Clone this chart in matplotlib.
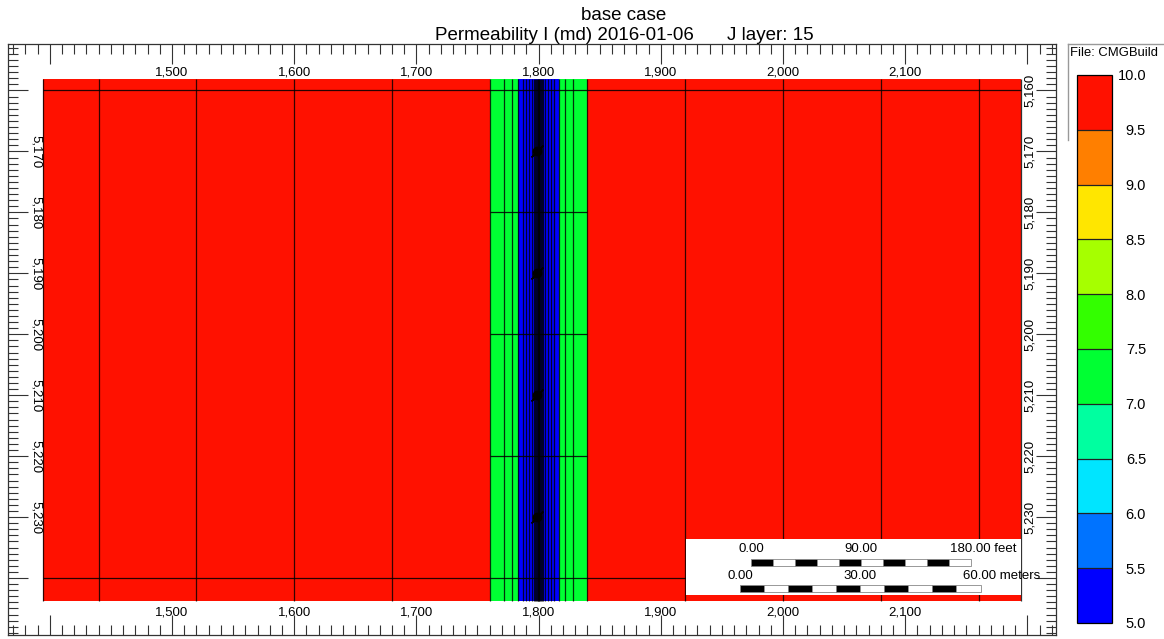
import numpy as np
import matplotlib
matplotlib.use("Agg")
import matplotlib.pyplot as plt
from matplotlib.colors import ListedColormap, BoundaryNorm
from matplotlib.cm import ScalarMappable
from matplotlib.patches import Rectangle
from matplotlib.lines import Line2D
from matplotlib.ticker import MultipleLocator

plt.rcParams['font.family'] = ['Liberation Sans', 'DejaVu Sans']

W, H = 1164, 639

# colour scale of permeability I (md)
levels = [5.0, 5.5, 6.0, 6.5, 7.0, 7.5, 8.0, 8.5, 9.0, 9.5, 10.0]
level_colors = ['#0000ff', '#0073ff', '#00e5ff', '#00ffa0', '#00ff33',
                '#33ff00', '#a6ff00', '#ffe600', '#ff7f00', '#ff1100']

# coarse grid block edges along I (ft)
x_left_edges = [1394.3, 1440, 1520, 1600, 1680]
x_right_edges = [1920, 2000, 2080, 2160, 2194.6]
coarse_perm = 9.8

# local refinement around the fracture at x = 1800
lgr_center = 1800.0
lgr_half = [40, 28, 22, 17, 13, 10, 7.5, 5.5, 4, 2.8, 1.9, 1.2, 0.7, 0.3]
lgr_perm_half = [7.3, 7.3, 7.3, 5.2, 5.2, 5.2, 5.2, 5.2, 5.2, 5.2, 5.2, 5.2, 5.2]
lgr_perm_mid = 5.2

# layer edges along K (ft, depth)
y_edges = [5158.1, 5160, 5180, 5200, 5220, 5240, 5243.8]
lgr_rows = [5180, 5200, 5220]

# wells (perforations) in the fracture blocks
well_x = [1799, 1799, 1799, 1799]
well_y = [5170, 5190, 5210, 5230]

x_ticklabels = [1500, 1600, 1700, 1800, 1900, 2000, 2100]
y_ticklabels_left = [5170, 5180, 5190, 5200, 5210, 5220, 5230]
y_ticklabels_right = [5160, 5170, 5180, 5190, 5200, 5210, 5220, 5230]

# build grid
lgr_left = [lgr_center - h for h in lgr_half]
lgr_right = [lgr_center + h for h in lgr_half[::-1]]
x_edges = np.array(x_left_edges + lgr_left + lgr_right + x_right_edges)
col_perm = ([coarse_perm] * len(x_left_edges) + lgr_perm_half + [lgr_perm_mid]
            + lgr_perm_half[::-1] + [coarse_perm] * len(x_right_edges))
perm = np.tile(col_perm, (len(y_edges) - 1, 1))

cmap = ListedColormap(level_colors)
norm = BoundaryNorm(levels, cmap.N)

fig = plt.figure(figsize=(W / 100, H / 100), dpi=100)
ax = fig.add_axes([8 / W, 1 - 635 / H, (1056 - 8) / W, (635 - 44) / H])

ax.pcolormesh(x_edges, y_edges, perm, cmap=cmap, norm=norm, shading='flat', zorder=1)
ax.vlines(x_edges, y_edges[0], y_edges[-1], color='black', lw=0.9, alpha=0.8, zorder=2)
ax.hlines([y_edges[1], y_edges[-2]], x_edges[0], x_edges[-1], color='black', lw=0.9, alpha=0.85, zorder=2)
ax.hlines(lgr_rows, lgr_left[0], lgr_right[-1], color='black', lw=0.9, alpha=0.85, zorder=2)

# well symbols
ax.plot(well_x, well_y, linestyle='none', marker=(2, 2, -45), ms=12, mew=1.0, color='black', zorder=4)
ax.plot(well_x, well_y, linestyle='none', marker='o', ms=6, color='black', zorder=4)

# axis scale (ruler style)
ax.set_xlim(1365.8, 2223.4)
ax.set_ylim(5249.35, 5152.37)
ax.xaxis.set_major_locator(MultipleLocator(100))
ax.xaxis.set_minor_locator(MultipleLocator(10))
ax.yaxis.set_major_locator(MultipleLocator(10))
ax.yaxis.set_minor_locator(MultipleLocator(1))
ax.tick_params(which='both', direction='in', top=True, right=True, bottom=True, left=True,
               labelbottom=False, labelleft=False, color='#333333', width=0.8)
ax.tick_params(which='major', length=14.4)
ax.tick_params(which='minor', length=7.2)
for s in ax.spines.values():
    s.set_color('#333333')
    s.set_linewidth(0.9)

for v in x_ticklabels:
    ax.text(v, 5157.0, f"{v:,}", ha='center', va='center', fontsize=9.5, zorder=5)
    ax.text(v, 5245.6, f"{v:,}", ha='center', va='center', fontsize=9.5, zorder=5)
for v in y_ticklabels_left:
    ax.text(1388.7, v, f"{v:,}", ha='center', va='center', fontsize=9.5, rotation=-90, zorder=5)
for v in y_ticklabels_right:
    ax.text(2202.1, v, f"{v:,}", ha='center', va='center', fontsize=9.5, rotation=90, zorder=5)

# scale bar box
ax.add_patch(Rectangle((1920.5, 5233.6), 2194.6 - 1920.5, 5242.8 - 5233.6,
                       facecolor='white', edgecolor='none', zorder=3))
feet_x0, feet_seg = 1973.8, 18.0
for i in range(10):
    ax.add_patch(Rectangle((feet_x0 + i * feet_seg, 5236.9), feet_seg, 1.15,
                           facecolor='black' if i % 2 == 0 else 'white',
                           edgecolor='#888888', lw=0.6, zorder=4))
m_x0, m_seg = 1964.8, 6 * 3.2808
for i in range(10):
    ax.add_patch(Rectangle((m_x0 + i * m_seg, 5241.1), m_seg, 1.15,
                           facecolor='black' if i % 2 == 0 else 'white',
                           edgecolor='#888888', lw=0.6, zorder=4))
ax.text(feet_x0, 5235.2, "0.00", ha='center', va='center', fontsize=9.5, zorder=5)
ax.text(feet_x0 + 5 * feet_seg, 5235.2, "90.00", ha='center', va='center', fontsize=9.5, zorder=5)
ax.text(feet_x0 + 10 * feet_seg - 17.5, 5235.2, "180.00 feet", ha='left', va='center', fontsize=9.5, zorder=5)
ax.text(m_x0, 5239.7, "0.00", ha='center', va='center', fontsize=9.5, zorder=5)
ax.text(m_x0 + 5 * m_seg, 5239.7, "30.00", ha='center', va='center', fontsize=9.5, zorder=5)
ax.text(m_x0 + 10 * m_seg - 14.5, 5239.7, "60.00 meters", ha='left', va='center', fontsize=9.5, zorder=5)

# titles
fig.text(624 / W, 1 - 15 / H, "base case", ha='center', va='center', fontsize=13.5)
fig.text(435 / W, 1 - 35 / H, "Permeability I (md) 2016-01-06", ha='left', va='center', fontsize=13.5)
fig.text(727 / W, 1 - 35 / H, "J layer: 15", ha='left', va='center', fontsize=13.5)

# colour legend
cax = fig.add_axes([1077 / W, 1 - 623 / H, 35 / W, 548 / H])
cb = fig.colorbar(ScalarMappable(norm=norm, cmap=cmap), cax=cax, drawedges=True, ticks=levels)
cb.outline.set_linewidth(0.9)
cb.dividers.set_color('#222222')
cb.dividers.set_linewidth(0.9)
cax.set_yticklabels([f"{v:.1f}" for v in levels])
cax.tick_params(length=0, labelsize=10.5, pad=24.5)
for t in cax.get_yticklabels():
    t.set_horizontalalignment('right')

# file info box
fig.add_artist(Line2D([1068 / W, 1068 / W], [1 - 44 / H, 1 - 140 / H], color='#999999', lw=1, transform=fig.transFigure))
fig.add_artist(Line2D([1068 / W, 1.0], [1 - 44 / H, 1 - 44 / H], color='#999999', lw=1, transform=fig.transFigure))
fig.text(1070 / W, 1 - 53 / H, "File: CMGBuild", ha='left', va='center', fontsize=9.4)

fig.savefig("out.png", dpi=100)
